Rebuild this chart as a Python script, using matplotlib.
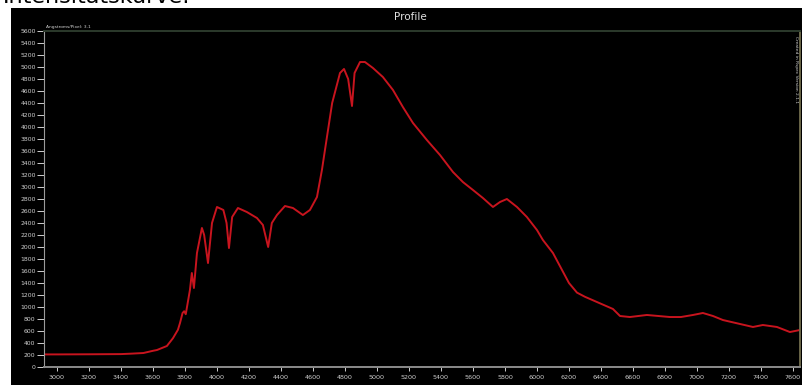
import numpy as np
import matplotlib.pyplot as plt
from matplotlib.patches import Rectangle

# Spectrum profile (wavelength in Angstrom, relative intensity)
wavelength = [2919, 3000, 3200, 3400, 3460, 3540, 3600, 3625, 3687, 3725, 3756,
              3769, 3785, 3795, 3805, 3831, 3843, 3856, 3875, 3906, 3920,
              3944, 3969, 4000, 4040, 4060, 4075, 4095, 4131, 4187, 4250,
              4287, 4320, 4343, 4375, 4425, 4475, 4537, 4581, 4625, 4656,
              4675, 4720, 4769, 4794, 4820, 4844, 4860, 4894, 4925, 4975,
              5037, 5100, 5162, 5225, 5312, 5394, 5475, 5537, 5600, 5662,
              5725, 5769, 5812, 5875, 5937, 6000, 6037, 6100, 6150, 6200,
              6250, 6300, 6375, 6475, 6519, 6581, 6687, 6831, 6900, 6975, 7037,
              7100, 7162, 7269, 7350, 7412, 7500, 7581, 7644]
intensity = [210, 210, 212, 215, 222, 233, 270, 283, 350, 480, 620,
             733, 900, 930, 880, 1283, 1567, 1317, 1900, 2317, 2200,
             1733, 2400, 2667, 2617, 2400, 1983, 2500, 2650, 2583, 2483,
             2367, 2000, 2400, 2533, 2683, 2650, 2533, 2617, 2833, 3283,
             3617, 4400, 4900, 4967, 4800, 4350, 4900, 5083, 5083, 4983,
             4833, 4617, 4333, 4067, 3783, 3533, 3250, 3083, 2950, 2817,
             2667, 2750, 2800, 2667, 2500, 2283, 2117, 1900, 1650, 1400,
             1240, 1170, 1083, 967, 850, 833, 867, 833, 833, 867, 900,
             850, 783, 717, 667, 700, 667, 583, 617]

x_ticks = list(range(3000, 7601, 200))
y_ticks = list(range(0, 5601, 200))

fig = plt.figure(figsize=(8.03, 3.85), dpi=100)
fig.patch.set_facecolor('white')

# black panel behind the plot
fig.add_artist(Rectangle((11 / 803, 0), 1, 1 - 8 / 385, transform=fig.transFigure,
                         facecolor='black', edgecolor='none', zorder=0))

fig.text(3 / 803, 1 - 3 / 385, 'Intensitätskurve:', fontsize=16, color='black',
         va='baseline', ha='left', family='DejaVu Sans')

ax = fig.add_axes([44 / 803, 1 - 367 / 385, 756 / 803, 336 / 385])
ax.set_facecolor('black')
ax.plot(wavelength, intensity, color='#c8141e', lw=1.4)

ax.set_xlim(2919, 7644)
ax.set_ylim(0, 5600)
ax.set_xticks(x_ticks)
ax.set_yticks(y_ticks)
ax.tick_params(axis='y', colors='#cfcfcf', labelsize=4.4, length=5, width=0.7, pad=1)
ax.tick_params(axis='x', colors='#cfcfcf', labelsize=4.6, length=3, width=0.7, pad=2.5)

ax.spines['left'].set_color('#9a9a9a')
ax.spines['bottom'].set_color('#8a8a8a')
ax.spines['bottom'].set_linewidth(1.4)
ax.spines['top'].set_color('#2c3a2c')
ax.spines['top'].set_linewidth(1.4)
ax.spines['right'].set_color('#6a6648')
ax.spines['right'].set_linewidth(1.4)

fig.text(410 / 803, 1 - 17 / 385, 'Profile', fontsize=7.5, color='#e0e0e0',
         ha='center', va='center')
fig.text(46 / 803, 1 - 27 / 385, 'Angstroms/Pixel: 3.1', fontsize=3.2,
         color='#d0d0d0', ha='left', va='center')
fig.text(796 / 803, 1 - 36 / 385, 'Created in Rspec Version 2.1.1', fontsize=3.2,
         color='#d0d0d0', ha='center', va='top', rotation=270)

fig.savefig('out.png', dpi=100, facecolor=fig.get_facecolor())
